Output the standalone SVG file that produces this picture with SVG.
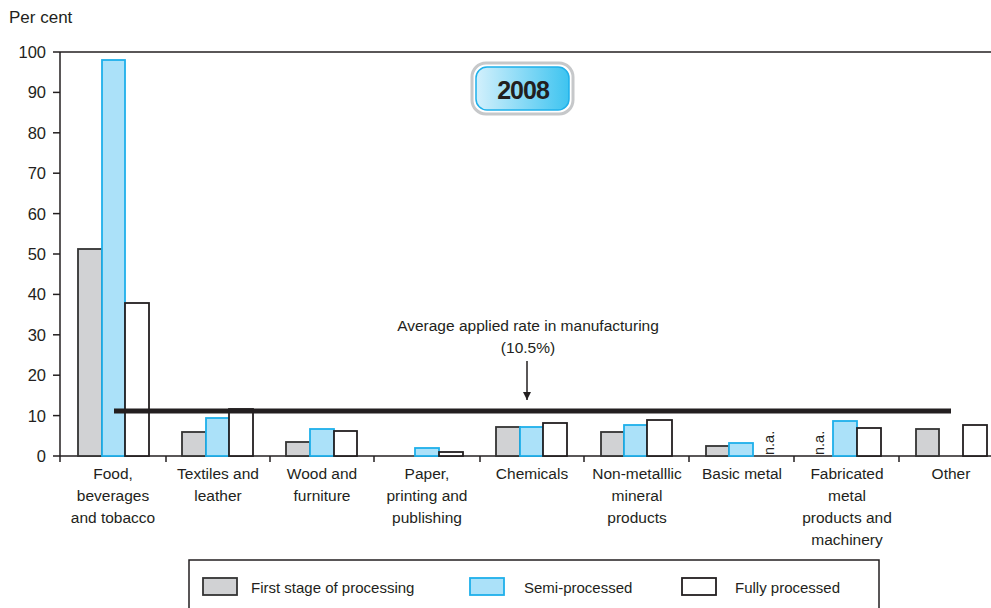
<svg xmlns="http://www.w3.org/2000/svg" width="991" height="608" viewBox="0 0 991 608">
<defs>
<style>
text{font-family:"Liberation Sans",Arial,sans-serif;fill:#231f20;}
.ax{stroke:#231f20;stroke-width:1.5;fill:none;}
.yl{font-size:16.5px;text-anchor:end;}
.cl{font-size:15.5px;text-anchor:middle;}
.g{fill:#d1d2d4;stroke:#333;stroke-width:1.8;}
.b{fill:#abe1f9;stroke:#1eb0ea;stroke-width:1.8;}
.w{fill:#fff;stroke:#231f20;stroke-width:1.8;}
.lg{font-size:15px;}
.na{font-size:14.5px;}
</style>
<linearGradient id="yr" x1="0" y1="0" x2="1" y2="0">
<stop offset="0" stop-color="#d3f0fc"/>
<stop offset="1" stop-color="#3ec4f0"/>
</linearGradient>
<marker id="ah" viewBox="0 0 10 10" refX="10" refY="5" markerWidth="8" markerHeight="8" markerUnits="userSpaceOnUse" orient="auto">
<path d="M0,0 L10,5 L0,10 z" fill="#231f20"/>
</marker>
</defs>
<rect width="991" height="608" fill="#fff"/>
<text x="9" y="23" style="font-size:17px">Per cent</text>
<g id="axes">
<line class="ax" x1="60" y1="52" x2="991" y2="52"/>
<line class="ax" x1="60" y1="52" x2="60" y2="462"/>
<line class="ax" x1="60" y1="456" x2="991" y2="456"/>
<g class="ax">
<line x1="53" y1="52" x2="60" y2="52"/><line x1="53" y1="92.4" x2="60" y2="92.4"/><line x1="53" y1="132.8" x2="60" y2="132.8"/><line x1="53" y1="173.2" x2="60" y2="173.2"/><line x1="53" y1="213.6" x2="60" y2="213.6"/><line x1="53" y1="254" x2="60" y2="254"/><line x1="53" y1="294.4" x2="60" y2="294.4"/><line x1="53" y1="334.8" x2="60" y2="334.8"/><line x1="53" y1="375.2" x2="60" y2="375.2"/><line x1="53" y1="415.6" x2="60" y2="415.6"/><line x1="53" y1="456" x2="60" y2="456"/>
<line x1="166" y1="456" x2="166" y2="462"/><line x1="270" y1="456" x2="270" y2="462"/><line x1="374" y1="456" x2="374" y2="462"/><line x1="480" y1="456" x2="480" y2="462"/><line x1="584" y1="456" x2="584" y2="462"/><line x1="689" y1="456" x2="689" y2="462"/><line x1="794" y1="456" x2="794" y2="462"/><line x1="899" y1="456" x2="899" y2="462"/>
</g>
<text class="yl" x="46" y="58">100</text>
<text class="yl" x="46" y="98">90</text>
<text class="yl" x="46" y="139">80</text>
<text class="yl" x="46" y="179">70</text>
<text class="yl" x="46" y="220">60</text>
<text class="yl" x="46" y="260">50</text>
<text class="yl" x="46" y="300">40</text>
<text class="yl" x="46" y="341">30</text>
<text class="yl" x="46" y="381">20</text>
<text class="yl" x="46" y="422">10</text>
<text class="yl" x="46" y="462">0</text>
</g>
<g id="year">
<rect x="472" y="63" width="101" height="51" rx="14" fill="#fff" stroke="#c6c8ca" stroke-width="3"/>
<rect x="476" y="67" width="93" height="43" rx="11" fill="url(#yr)" stroke="#1eb0ea" stroke-width="1.5"/>
<text x="523" y="99" text-anchor="middle" style="font-size:25px;font-weight:bold;letter-spacing:-1px">2008</text>
</g>
<g id="food">
<rect class="g" x="78" y="249" width="24" height="207"/>
<rect class="b" x="102" y="60" width="23" height="396"/>
<rect class="w" x="125" y="303" width="24" height="153"/>
<text class="cl" x="113" y="479">Food,</text>
<text class="cl" x="113" y="501">beverages</text>
<text class="cl" x="113" y="523">and tobacco</text>
</g>
<g id="textiles">
<rect class="g" x="182" y="432" width="24" height="24"/>
<rect class="b" x="206" y="418" width="23" height="38"/>
<rect class="w" x="229" y="409" width="24" height="47"/>
<text class="cl" x="218" y="479">Textiles and</text>
<text class="cl" x="218" y="501">leather</text>
</g>
<g id="wood">
<rect class="g" x="286" y="442" width="24" height="14"/>
<rect class="b" x="310" y="429" width="24" height="27"/>
<rect class="w" x="334" y="431" width="23" height="25"/>
<text class="cl" x="322" y="479">Wood and</text>
<text class="cl" x="322" y="501">furniture</text>
</g>
<g id="paper">
<rect class="b" x="415" y="448" width="24" height="8"/>
<rect class="w" x="439" y="452" width="24" height="4"/>
<text class="cl" x="427" y="479">Paper,</text>
<text class="cl" x="427" y="501">printing and</text>
<text class="cl" x="427" y="523">publishing</text>
</g>
<g id="chemicals">
<rect class="g" x="496" y="427" width="24" height="29"/>
<rect class="b" x="520" y="427" width="23" height="29"/>
<rect class="w" x="543" y="423" width="24" height="33"/>
<text class="cl" x="532" y="479">Chemicals</text>
</g>
<g id="nonmetallic">
<rect class="g" x="601" y="432" width="23" height="24"/>
<rect class="b" x="624" y="425" width="23" height="31"/>
<rect class="w" x="647" y="420" width="25" height="36"/>
<text class="cl" x="637" y="479">Non-metalllic</text>
<text class="cl" x="637" y="501">mineral</text>
<text class="cl" x="637" y="523">products</text>
</g>
<g id="basic">
<rect class="g" x="706" y="446" width="23" height="10"/>
<rect class="b" x="729" y="443" width="24" height="13"/>
<text class="na" x="774" y="455" transform="rotate(-90 774 455)">n.a.</text>
<text class="cl" x="742" y="479">Basic metal</text>
</g>
<g id="fabricated">
<text class="na" x="824" y="455" transform="rotate(-90 824 455)">n.a.</text>
<rect class="b" x="833" y="421" width="24" height="35"/>
<rect class="w" x="857" y="428" width="24" height="28"/>
<text class="cl" x="847" y="479">Fabricated</text>
<text class="cl" x="847" y="501">metal</text>
<text class="cl" x="847" y="523">products and</text>
<text class="cl" x="847" y="545">machinery</text>
</g>
<g id="other">
<rect class="g" x="916" y="429" width="23" height="27"/>
<rect class="w" x="963" y="425" width="24" height="31"/>
<text class="cl" x="951" y="479">Other</text>
</g>
<g id="average">
<line x1="114" y1="411" x2="951" y2="411" stroke="#231f20" stroke-width="5"/>
<text class="cl" x="528" y="331">Average applied rate in manufacturing</text>
<text class="cl" x="528" y="353">(10.5%)</text>
</g>
<g id="connectors">
<line x1="527" y1="361" x2="527" y2="400" stroke="#231f20" stroke-width="1.5" marker-end="url(#ah)"/>
</g>
<g id="legend">
<rect x="189" y="560" width="690" height="60" fill="#fff" stroke="#231f20" stroke-width="1.5"/>
<rect class="g" x="203" y="578" width="34" height="17"/>
<text class="lg" x="251" y="593">First stage of processing</text>
<rect class="b" x="470" y="578" width="34" height="17"/>
<text class="lg" x="524" y="593">Semi-processed</text>
<rect class="w" x="682" y="578" width="34" height="17"/>
<text class="lg" x="735" y="593">Fully processed</text>
</g>
</svg>
